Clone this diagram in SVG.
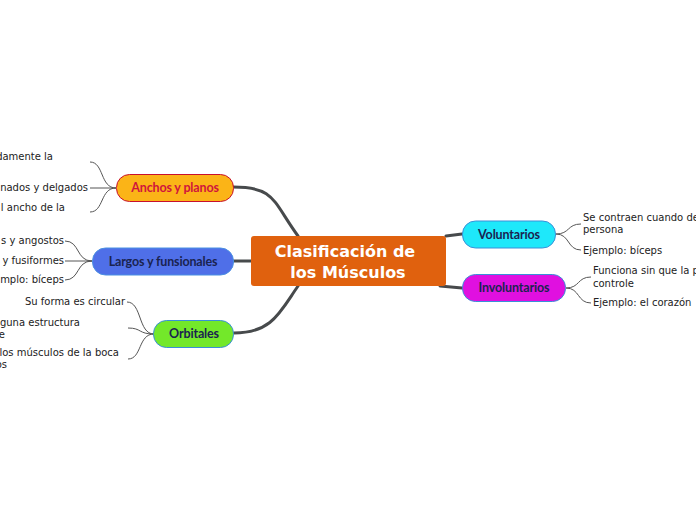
<svg xmlns="http://www.w3.org/2000/svg" width="696" height="520" viewBox="0 0 696 520">
<style>
.main{stroke:#474a4c;stroke-width:3;fill:none;stroke-linecap:round}
.leaf{stroke:#555;stroke-width:1;fill:none}
.lt{font-family:"DejaVu Sans",Verdana,sans-serif;font-size:10px;fill:#222}
.nt{font-family:Lato,"Noto Sans",sans-serif;font-size:12.5px;font-weight:bold;letter-spacing:-0.15px;fill:#1a2350;text-anchor:middle}
.ct{font-family:"DejaVu Sans",Verdana,sans-serif;font-size:16px;font-weight:bold;fill:#fff;text-anchor:middle}
</style>
<rect width="696" height="520" fill="#fff"/>
<g id="connectors">
<path class="main" d="M233,187 C275,187 272,200 298,236"/>
<path class="main" d="M233,261 L251,261"/>
<path class="main" d="M234,333 C272,333 280,312 298,286"/>
<path class="main" d="M446,236 L462,234"/>
<path class="main" d="M440,286 L462,288"/>
<path class="leaf" d="M116,188 C100,188 104,162 90,162"/>
<path class="leaf" d="M116,188 L90,188"/>
<path class="leaf" d="M116,188 C100,188 104,212 90,212"/>
<path class="leaf" d="M92,261 C76,261 80,241 65,241"/>
<path class="leaf" d="M92,261 L65,261"/>
<path class="leaf" d="M92,261 C76,261 80,280 65,280"/>
<path class="leaf" d="M154,334 C138,334 142,302 127,302"/>
<path class="leaf" d="M154,334 C138,334 142,328 128,328"/>
<path class="leaf" d="M154,334 C138,334 142,359 128,359"/>
<path class="leaf" d="M556,234 C570,234 567,224 581,224"/>
<path class="leaf" d="M556,234 C570,234 567,250 581,250"/>
<path class="leaf" d="M566,288 C580,288 577,277 591,277"/>
<path class="leaf" d="M566,288 C580,288 577,303 591,303"/>
</g>
<g id="central">
<rect x="251" y="236" width="195" height="50" rx="3" fill="#e0610e"/>
<text class="ct" x="345" y="257">Clasificación de</text>
<text class="ct" x="348" y="278">los Músculos</text>
</g>
<g id="anchos">
<rect x="116.5" y="174.5" width="117" height="27" rx="13" fill="#fbb417" stroke="#c8102e"/>
<text class="nt" x="175" y="192" style="fill:#d0143c">Anchos y planos</text>
</g>
<g id="largos">
<rect x="92.5" y="248" width="141" height="27" rx="13" fill="#4f6fe8" stroke="#4a90e2"/>
<text class="nt" x="163" y="265.5">Largos y funsionales</text>
</g>
<g id="orbitales">
<rect x="153.5" y="320.5" width="80" height="27" rx="13" fill="#73e82a" stroke="#3a8fd8"/>
<text class="nt" x="194" y="338">Orbitales</text>
</g>
<g id="voluntarios">
<rect x="462.5" y="221" width="93" height="27" rx="13" fill="#1ee8fa" stroke="#3a8fd8"/>
<text class="nt" x="509" y="238.5">Voluntarios</text>
</g>
<g id="involuntarios">
<rect x="462.5" y="274.5" width="103" height="27" rx="13" fill="#e010e0" stroke="#3a8fd8"/>
<text class="nt" x="514" y="292">Involuntarios</text>
</g>
<g id="leaves">
<text class="lt" x="53" y="160" text-anchor="end">damente la</text>
<text class="lt" x="88" y="191" text-anchor="end">nados y delgados</text>
<text class="lt" x="65" y="211" text-anchor="end">l ancho de la</text>
<text class="lt" x="64" y="244" text-anchor="end">s y angostos</text>
<text class="lt" x="64" y="264" text-anchor="end"> y fusiformes</text>
<text class="lt" x="64" y="283" text-anchor="end">mplo: bíceps</text>
<text class="lt" x="125" y="305" text-anchor="end">Su forma es circular</text>
<text class="lt" x="80" y="326" text-anchor="end">guna estructura</text>
<text class="lt" x="5" y="338" text-anchor="end">e</text>
<text class="lt" x="119" y="356" text-anchor="end">los músculos de la boca</text>
<text class="lt" x="7" y="368" text-anchor="end">os</text>
<text class="lt" x="583" y="221">Se contraen cuando de</text>
<text class="lt" x="583" y="233">persona</text>
<text class="lt" x="583" y="254">Ejemplo: bíceps</text>
<text class="lt" x="593" y="274">Funciona sin que la p</text>
<text class="lt" x="593" y="287">controle</text>
<text class="lt" x="593" y="306">Ejemplo: el corazón</text>
</g>
</svg>
